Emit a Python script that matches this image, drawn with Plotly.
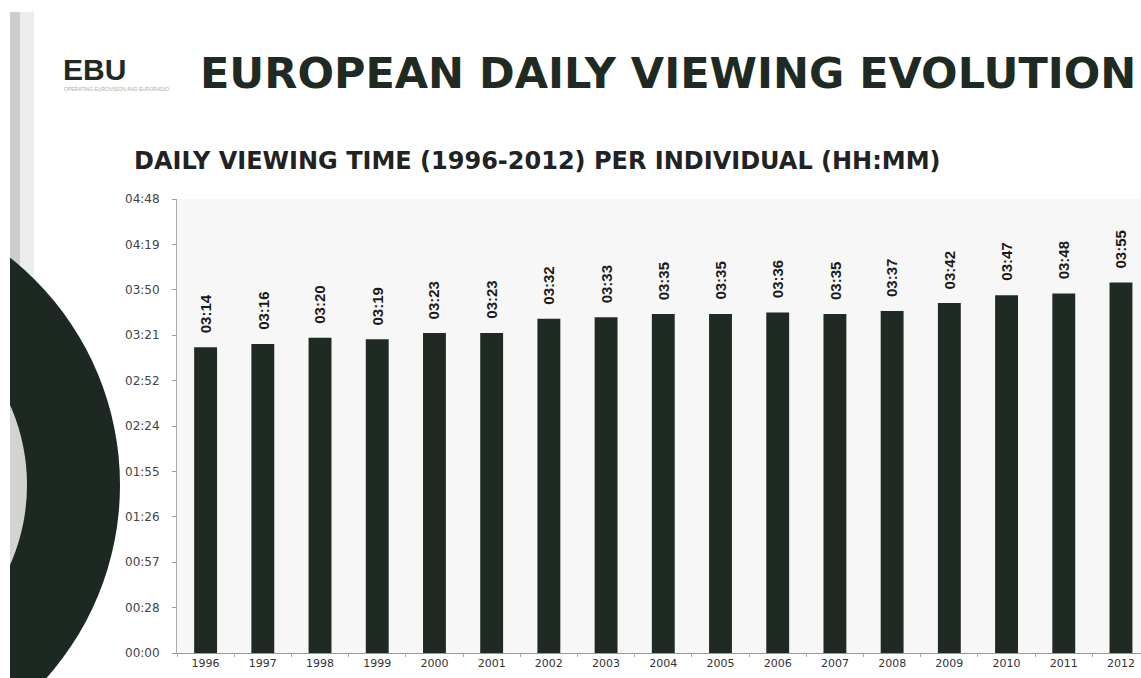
import plotly.graph_objects as go

# data
years = ["1996", "1997", "1998", "1999", "2000", "2001", "2002", "2003", "2004",
         "2005", "2006", "2007", "2008", "2009", "2010", "2011", "2012"]
# daily viewing time in minutes
minutes = [194, 196, 200, 199, 203, 203, 212, 213, 215,
           215, 216, 215, 217, 222, 227, 228, 235]
bar_labels = ["03:14", "03:16", "03:20", "03:19", "03:23", "03:23", "03:32", "03:33", "03:35",
              "03:35", "03:36", "03:35", "03:37", "03:42", "03:47", "03:48", "03:55"]
ytick_vals = [0, 28.8, 57.6, 86.4, 115.2, 144, 172.8, 201.6, 230.4, 259.2, 288]
ytick_text = ["00:00", "00:28", "00:57", "01:26", "01:55", "02:24",
              "02:52", "03:21", "03:50", "04:19", "04:48"]

W, H = 1141, 678
L, T, B, R = 177, 199, 25, 0
pw, ph = W - L - R, H - T - B

def px(x):  # pixel -> paper x
    return (x - L) / pw

def py(y):  # pixel -> paper y
    return (H - B - y) / ph

bar_col = "#1f2a23"

fig = go.Figure()
fig.add_trace(go.Bar(
    x=years, y=minutes, width=0.4,
    marker=dict(color=bar_col, line=dict(width=0)),
    hoverinfo="skip",
))

# value labels above bars, rotated
annots = []
for i, (m, lab) in enumerate(zip(minutes, bar_labels)):
    annots.append(dict(
        x=i, y=m, xref="x", yref="y", text="<b>" + lab + "</b>",
        showarrow=False, textangle=-90, xanchor="center", yanchor="bottom", yshift=12,
        font=dict(family="Liberation Sans, Arial, sans-serif", size=15, color="#1a1a1a"),
    ))

# headings
annots.append(dict(
    x=px(61), y=py(51), xref="paper", yref="paper", xanchor="left", yanchor="top",
    text="<b>EBU</b>", showarrow=False,
    font=dict(family="Liberation Sans, Arial, sans-serif", size=30, color="#1f2a23"),
))
annots.append(dict(
    x=px(62), y=py(84), xref="paper", yref="paper", xanchor="left", yanchor="top",
    text="OPERATING EUROVISION AND EURORADIO", showarrow=False,
    font=dict(family="Liberation Sans, Arial, sans-serif", size=5, color="#aaaaaa"),
))
annots.append(dict(
    x=px(198), y=py(73), xref="paper", yref="paper", xanchor="left", yanchor="middle",
    text="<b>EUROPEAN DAILY VIEWING EVOLUTION</b>", showarrow=False,
    font=dict(family="DejaVu Sans, sans-serif", size=43, color="#1f2a23"),
))
annots.append(dict(
    x=px(132), y=py(161), xref="paper", yref="paper", xanchor="left", yanchor="middle",
    text="<b>DAILY VIEWING TIME (1996-2012) PER INDIVIDUAL (HH:MM)</b>", showarrow=False,
    font=dict(family="DejaVu Sans, sans-serif", size=24, color="#222222"),
))

# decorative ring on the left edge and grey stripe
cx, cy, r_out, r_in = -170, 485, 290, 197
shapes = [
    dict(type="rect", xref="paper", yref="paper", layer="below",
         x0=px(10), x1=px(20), y0=py(12), y1=py(H + 5),
         fillcolor="#cdcdcd", line=dict(width=0)),
    dict(type="rect", xref="paper", yref="paper", layer="below",
         x0=px(20), x1=px(34), y0=py(12), y1=py(H + 5),
         fillcolor="#ededed", line=dict(width=0)),
    dict(type="circle", xref="paper", yref="paper",
         x0=px(cx - r_out), x1=px(cx + r_out), y0=py(cy + r_out), y1=py(cy - r_out),
         fillcolor="#1e2822", line=dict(width=0)),
    dict(type="circle", xref="paper", yref="paper",
         x0=px(cx - r_in), x1=px(cx + r_in), y0=py(cy + r_in), y1=py(cy - r_in),
         fillcolor="#d2d4d2", line=dict(width=0)),
    dict(type="rect", xref="paper", yref="paper",
         x0=px(-5), x1=px(10), y0=py(-5), y1=py(H + 5),
         fillcolor="white", line=dict(width=0)),
]

fig.update_layout(
    width=W, height=H,
    margin=dict(l=L, r=R, t=T, b=B, pad=0),
    paper_bgcolor="white", plot_bgcolor="#f7f7f7",
    showlegend=False,
    annotations=annots, shapes=shapes,
    font=dict(family="DejaVu Sans, sans-serif", color="#333333"),
    xaxis=dict(
        type="category", range=[-0.5, 16.35], showgrid=False, showline=True,
        linecolor="#999999", linewidth=1, ticks="outside", tickson="boundaries",
        ticklen=3, tickcolor="#aaaaaa", tickfont=dict(size=11, color="#333333"),
        fixedrange=True,
    ),
    yaxis=dict(
        range=[0, 288], tickvals=ytick_vals, ticktext=ytick_text,
        showgrid=False, zeroline=False, showline=True, linecolor="#aaaaaa",
        linewidth=1, ticks="outside", ticklen=4, tickcolor="#999999",
        ticklabelstandoff=10,
        tickfont=dict(size=12, color="#444444"), fixedrange=True,
    ),
)

# drop the default page margin so the figure sits at the window's corner
fig.write_html("out.html", config={"displayModeBar": False},
               post_script="document.body.style.margin='0';")
